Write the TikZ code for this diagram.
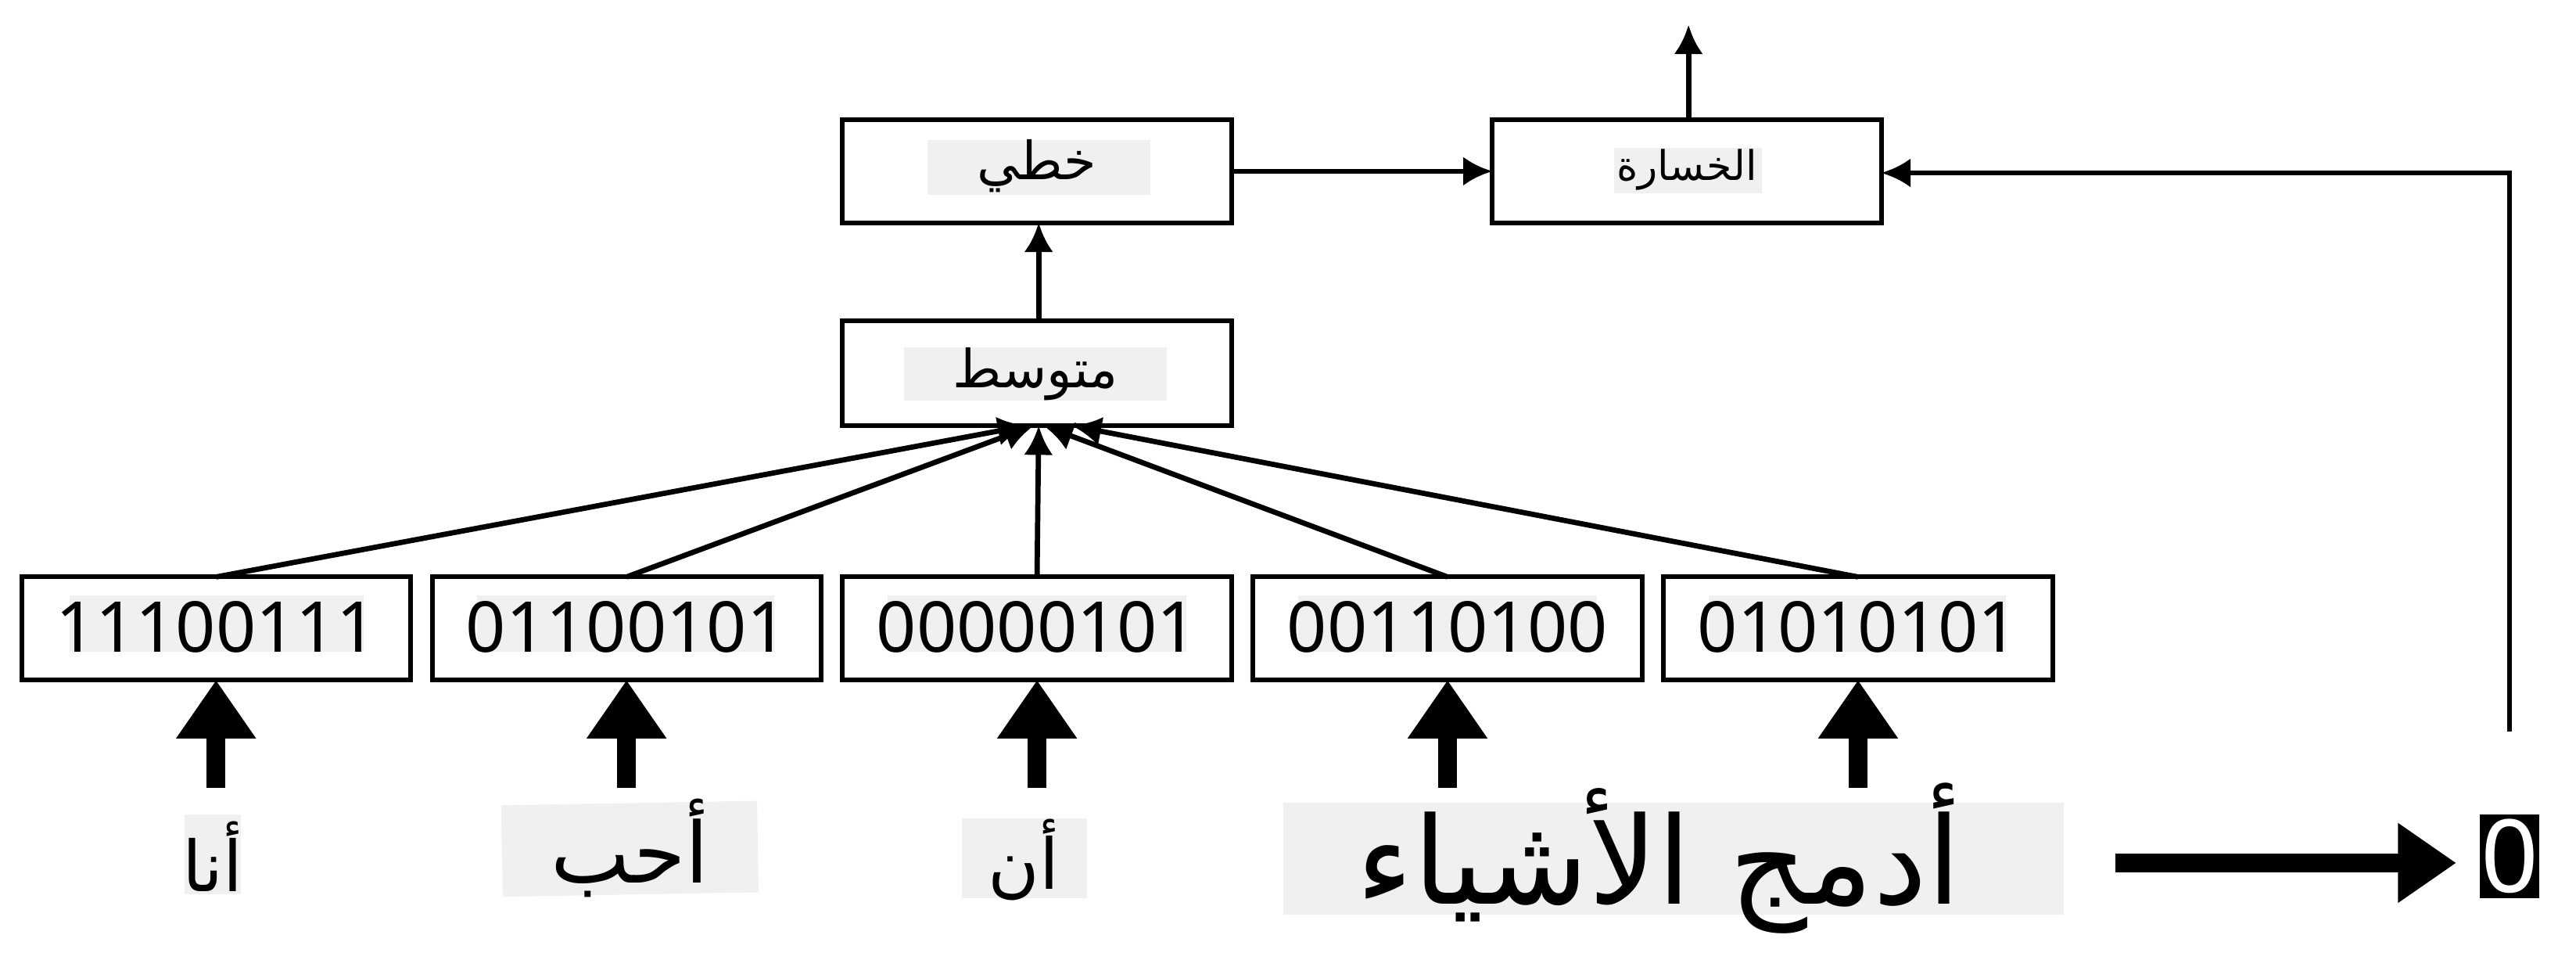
\documentclass[tikz,border=0pt]{standalone}
\usepackage{fontspec}
\setmainfont{Noto Sans}
\newfontfamily\arab[Script=Arabic]{DejaVu Sans}
\usetikzlibrary{arrows.meta}
\TeXXeTstate=1
\newcommand{\ar}[1]{{\arab\beginR #1\endR}}
\begin{document}
\begin{tikzpicture}[x=0.01cm,y=-0.01cm,
  box/.style={draw,line width=0.8pt},
  gray/.style={fill=black!6},
  ln/.style={line width=0.9pt,-{Latex[length=5pt,width=5pt]}},
  thick/.style={line width=3.2pt,-{Triangle[length=10pt,width=13pt]}}]
\useasboundingbox (0,0) rectangle (1550,588);
% top boxes
\draw[box] (507,72) rectangle (741,134); \fill[gray] (558,84) rectangle (692,117);
\node (lin) at (624,100) {\small\ar{خطي}};
\coordinate (linb) at (625,134); \coordinate (linr) at (741,103);
\draw[box] (898,72) rectangle (1132,134); \fill[gray] (971,89) rectangle (1060,116);
\node (loss) at (1015,102) {\scriptsize\ar{الخسارة}};
\coordinate (lossl) at (898,103); \coordinate (losst) at (1016,72); \coordinate (lossr) at (1132,104);
\coordinate (out) at (1016,15);
\draw[box] (507,193) rectangle (741,256); \fill[gray] (544,209) rectangle (702,241);
\node (avg) at (623,225) {\small\ar{متوسط}};
\coordinate (avgt) at (625,193); \coordinate (avgb) at (625,256);
\draw[ln] (avgt) -- (linb);
\draw[ln] (linr) -- (lossl);
\draw[ln] (losst) -- (out);
\coordinate (c1) at (1510,440); \coordinate (c2) at (1510,104);
\draw[ln] (c1) -- (c2) -- (lossr);
% bottom boxes
\foreach \x/\b/\n/\gl/\gr in {13/11100111/a/42/219,260/01100101/b/287/466,507/00000101/c/534/714,754/00110100/d/781/961,1001/01010101/e/1028/1207}{
  \draw[box] (\x,347) rectangle (\x+234,409);
  \fill[gray] (\gl,358) rectangle (\gr,392);
  \node (\n) at (\x+117,377) {\large \b};
  \coordinate (\n t) at (\x+117,347);
  \coordinate (\n b) at (\x+117,409);
  \coordinate (\n s) at (\x+117,474);
  \draw[thick] (\n s) -- (\n b);
}
\draw[ln] (at) -- (618,256);
\draw[ln] (bt) -- (622,256);
\draw[ln] (ct) -- (625,256);
\draw[ln] (dt) -- (628,256);
\draw[ln] (et) -- (645,256);
% words
\fill[gray] (111,490) rectangle (145,538); \node (w1) at (128,515) {\large\ar{أنا}};
\fill[gray,rotate around={1:(379,510)}] (302,483) rectangle (456,538); \node (w2) at (379,510) {\Large\ar{أحب}};
\fill[gray] (579,492) rectangle (654,540); \node (w3) at (616,517) {\large\ar{أن}};
\fill[gray] (772,483) rectangle (1242,550); \node (w4) at (998,516) {\huge\ar{أدمج الأشياء}};
\coordinate (as) at (1273,519); \coordinate (ae) at (1478,519);
\draw[thick] (as) -- (ae);
\fill[black] (1492,490) rectangle (1528,540);
\node[text=white] (zero) at (1510,515) {\LARGE 0};
\end{tikzpicture}
\end{document}
